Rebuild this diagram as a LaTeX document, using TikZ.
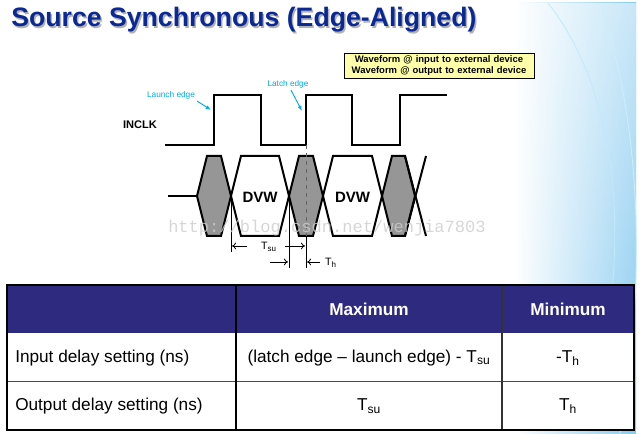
\documentclass[tikz,border=0pt]{standalone}
\usepackage{fontspec}
\setmainfont{Liberation Sans}
\setmonofont{Liberation Mono}
\usetikzlibrary{arrows.meta,fadings}

\definecolor{titleblue}{RGB}{10,40,150}
\definecolor{headnavy}{RGB}{45,42,128}
\definecolor{edgecyan}{RGB}{0,170,230}
\definecolor{notefill}{RGB}{255,255,170}
\definecolor{skyright}{RGB}{135,202,240}
\definecolor{eyegray}{RGB}{150,150,150}

\tikzset{
  clk/.style={line width=1.8pt, line join=miter},
  eye/.style={line width=1.5pt, line join=miter},
  edgelbl/.style={font=\fontsize{6.2}{7}\selectfont, text=edgecyan, inner sep=0pt},
  edgearrow/.style={edgecyan, line width=0.7pt, -{Latex[length=4pt,width=3pt]}},
  timearrow/.style={line width=0.6pt, -{To[length=3pt,width=5pt]}},
  tlbl/.style={font=\fontsize{8}{9}\selectfont, inner sep=0pt},
  cell/.style={font=\fontsize{12.9}{15}\selectfont, inner sep=0pt},
  headcell/.style={font=\fontsize{12.9}{15}\selectfont\bfseries, text=white, inner sep=0pt}
}

\begin{document}
\begin{tikzpicture}[x=0.75pt,y=-0.75pt]
  \useasboundingbox (0,0) rectangle (640,434);
  % background on the right
  \shade[left color=white, right color=skyright] (515,3) rectangle (636,434);
  \fill[white, opacity=0.55, path fading=south] (515,3) rectangle (636,434);
  \draw[cyan!25, line width=0.6pt] (548,3) .. controls (640,120) and (625,330) .. (575,434);
  \draw[cyan!20, line width=0.6pt] (600,3) .. controls (650,150) and (640,320) .. (620,434);

  % title
  \node[anchor=base west, inner sep=0pt, text=black!30, font=\fontsize{20}{24}\selectfont\bfseries] at (12.5,28.5) {Source Synchronous (Edge-Aligned)};
  \node (title) [anchor=base west, inner sep=0pt, text=titleblue, font=\fontsize{20}{24}\selectfont\bfseries] at (11,27) {Source Synchronous (Edge-Aligned)};

  % legend box
  \node (legend) [draw, line width=0.6pt, fill=notefill, minimum width=142.5pt, minimum height=18.75pt, inner sep=0pt,
    font=\fontsize{7.1}{7.9}\selectfont\bfseries, align=center, text width=142.5pt]
    at (439,65.5) {Waveform @ input to external device\\Waveform @ output to external device};

  % clock
  \node (inclk) [font=\fontsize{8.3}{9}\selectfont\bfseries, inner sep=0pt] at (140,125) {INCLK};
  \draw[clk] (165,145) -- (214,145) -- (214,95) -- (261,95) -- (261,145) -- (306,145) -- (306,95)
    -- (352,95) -- (352,145) -- (400,145) -- (400,95) -- (447,95);
  \coordinate (launchtip) at (211,110);
  \coordinate (latchtip) at (302,111);
  \node (launchlbl) [edgelbl] at (171,95) {Launch edge};
  \node (latchlbl) [edgelbl] at (288,84) {Latch edge};
  \draw[edgearrow] (launchlbl.south east) ++(2,2) -- (launchtip);
  \draw[edgearrow] (latchlbl.south) ++(3,2) -- (latchtip);

  % data eye
  \draw[eye] (168,196) -- (197,196);
  \foreach \a/\b in {197/231, 289/323, 382/415}
    \draw[eye, fill=eyegray] (\a,196) -- (\a+10,156) -- (\b-10,156) -- (\b,196) -- (\b-10,236) -- (\a+10,236) -- cycle;
  \foreach \a/\b in {231/289, 323/382}
    \draw[eye] (\a,196) -- (\a+10,156) -- (\b-10,156) -- (\b,196) -- (\b-10,236) -- (\a+10,236) -- cycle;
  \draw[eye] (405,156) -- (426,236);
  \draw[eye] (405,236) -- (426,156);
  \node (dvwa) [font=\fontsize{11.25}{13}\selectfont\bfseries, inner sep=0pt] at (260,197) {DVW};
  \node (dvwb) [font=\fontsize{11.25}{13}\selectfont\bfseries, inner sep=0pt] at (352.5,197) {DVW};

  % timing marks
  \draw[black!60, dashed, line width=0.6pt] (306,145) -- (306,236);
  \draw[line width=0.6pt] (306,236) -- (306,268);
  \draw[line width=0.6pt] (231,196) -- (231,252);
  \draw[line width=0.6pt] (289,196) -- (289,268);
  \node (tsu) [tlbl] at (269,247) {T\textsubscript{su}};
  \coordinate (tsuleft) at (232,246);
  \coordinate (tsuright) at (305,246);
  \draw[timearrow] (247,246) -- (tsuleft);
  \draw[timearrow] (285,246) -- (tsuright);
  \node (th) [tlbl] at (331,263) {T\textsubscript{h}};
  \coordinate (thleft) at (288,262);
  \coordinate (thright) at (307,262);
  \draw[timearrow] (270,262) -- (thleft);
  \draw[timearrow] (320,262) -- (thright);

  % watermark
  \node (mark) [text=black!20, opacity=0.8, font=\ttfamily\fontsize{12.8}{14}\selectfont, inner sep=0pt] at (327,228) {http://blog.csdn.net/wenjia7803};

  % table
  \fill[white] (7,285) rectangle (634,430);
  \fill[headnavy] (7,285) rectangle (634,333);
  \draw[black!70, line width=0.8pt] (7,381.5) -- (634,381.5);
  \draw[black, line width=1pt] (236,285) -- (236,430);
  \draw[black!80, line width=0.8pt] (502,285) -- (502,430);
  \draw[black, line width=1.5pt] (7,285) rectangle (634,430);
  \node (hmax) [headcell] at (369,309) {Maximum};
  \node (hmin) [headcell] at (568,309) {Minimum};
  \node (rowin) [cell, anchor=west] at (15,358) {Input delay setting (ns)};
  \node (rowout) [cell, anchor=west] at (15,406) {Output delay setting (ns)};
  \node (inmax) [cell] at (369,358) {(latch edge – launch edge) - T\textsubscript{su}};
  \node (inmin) [cell] at (568,358) {-T\textsubscript{h}};
  \node (outmax) [cell] at (369,406) {T\textsubscript{su}};
  \node (outmin) [cell] at (568,406) {T\textsubscript{h}};
\end{tikzpicture}
\end{document}
